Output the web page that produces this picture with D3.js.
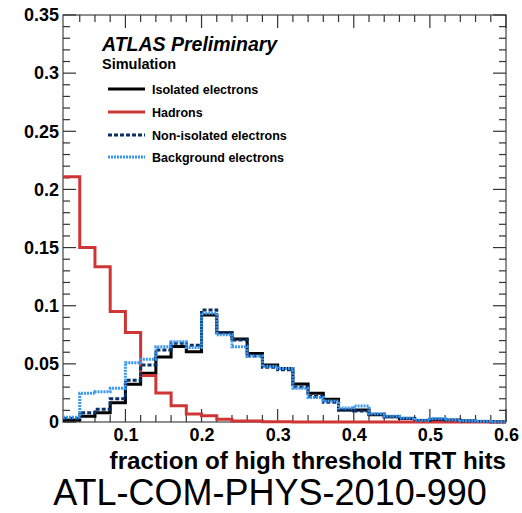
<!DOCTYPE html>
<html>
<head>
<meta charset="utf-8">
<style>
  body { margin: 0; background: #fff; }
  text { font-family: "Liberation Sans", Arial, sans-serif; }
  .axis text { font-size: 18px; font-weight: bold; fill: #000; }
</style>
</head>
<body>
<svg width="522" height="513"></svg>
<script src="https://d3js.org/d3.v7.min.js"></script>
<script>

// bin lower edges, 0.02 wide
var binEdges = d3.range(29).map(function(i) { return +(0.02 + i * 0.02).toFixed(2); });

var isolated = [0.0017, 0.005, 0.008, 0.0166, 0.0324, 0.042, 0.056, 0.065, 0.0605, 0.092,
  0.0768, 0.0714, 0.059, 0.049, 0.046, 0.0327, 0.0247, 0.0195, 0.0103, 0.0103,
  0.0062, 0.0046, 0.003, 0.0012, 0.0022, 0.0015, 0.0008, 0.0005, 0.0002];
var hadrons = [0.211, 0.150, 0.1335, 0.095, 0.077, 0.040, 0.025, 0.014, 0.0069, 0.0054,
  0.0023, 0.0009, 0.0009, 0.0003, 0.0002, 0, 0, 0, 0, 0,
  0, 0, 0, 0, 0, 0, 0, 0, 0];
var nonIsolated = [0.003, 0.008, 0.011, 0.020, 0.036, 0.049, 0.062, 0.0677, 0.066, 0.0963,
  0.077, 0.0705, 0.0568, 0.047, 0.045, 0.030, 0.022, 0.017, 0.0103, 0.0095,
  0.0066, 0.0046, 0.003, 0.0012, 0.0023, 0.0017, 0.0008, 0.0005, 0.0002];
var background = [0.004, 0.0247, 0.026, 0.029, 0.051, 0.054, 0.0648, 0.069, 0.064, 0.0935,
  0.075, 0.0648, 0.0568, 0.048, 0.046, 0.029, 0.021, 0.018, 0.012, 0.0137,
  0.007, 0.005, 0.0035, 0.0015, 0.003, 0.002, 0.001, 0.0006, 0.0002];

var xTicks = [0.1, 0.2, 0.3, 0.4, 0.5, 0.6];
var yTicks = [0, 0.05, 0.1, 0.15, 0.2, 0.25, 0.3, 0.35];

var series = [
  { name: "Isolated electrons", values: isolated, color: "#000000", dash: null },
  { name: "Hadrons", values: hadrons, color: "#d03535", dash: null },
  { name: "Non-isolated electrons", values: nonIsolated, color: "#0a2f66", dash: "4,2" },
  { name: "Background electrons", values: background, color: "#3a97f0", dash: "2,1" }
];

var svg = d3.select("svg");
var mLeft = 63, mRight = 506, mTop = 15, mBottom = 422;

var x = d3.scaleLinear().domain([0.018, 0.6]).range([mLeft, mRight]);
var y = d3.scaleLinear().domain([0, 0.35]).range([mBottom, mTop]);

// frame
svg.append("rect")
    .attr("x", mLeft).attr("y", mTop)
    .attr("width", mRight - mLeft).attr("height", mBottom - mTop)
    .attr("fill", "none").attr("stroke", "#444").attr("stroke-width", 1.2);

// ticks (inside, on all four sides)
var xMinor = d3.range(4, 60, 2).map(function(d) { return d / 100; });
var yMinor = d3.range(0, 36, 1).map(function(d) { return d / 100; });
function isMajorX(v) { return Math.abs(v * 10 - Math.round(v * 10)) < 1e-6; }
function isMajorY(v) { return Math.abs(v * 20 - Math.round(v * 20)) < 1e-6; }

var tk = svg.append("g").attr("stroke", "#333").attr("stroke-width", 1.2);
xMinor.concat([0.6]).forEach(function(v) {
  var len = isMajorX(v) ? 13 : 7;
  tk.append("line").attr("x1", x(v)).attr("x2", x(v)).attr("y1", mBottom).attr("y2", mBottom - len);
  tk.append("line").attr("x1", x(v)).attr("x2", x(v)).attr("y1", mTop).attr("y2", mTop + len);
});
yMinor.forEach(function(v) {
  var len = isMajorY(v) ? 13 : 7;
  tk.append("line").attr("x1", mLeft).attr("x2", mLeft + len).attr("y1", y(v)).attr("y2", y(v));
  tk.append("line").attr("x1", mRight).attr("x2", mRight - len).attr("y1", y(v)).attr("y2", y(v));
});

// tick labels via d3 axes (tick lines hidden)
var xAxis = svg.append("g").attr("class", "axis")
    .attr("transform", "translate(0," + mBottom + ")")
    .call(d3.axisBottom(x).tickValues(xTicks).tickSize(0).tickPadding(6).tickFormat(d3.format("~g")));
var yAxis = svg.append("g").attr("class", "axis")
    .attr("transform", "translate(" + mLeft + ",0)")
    .call(d3.axisLeft(y).tickValues(yTicks).tickSize(0).tickPadding(4).tickFormat(d3.format("~g")));
xAxis.select(".domain").remove();
yAxis.select(".domain").remove();

// histograms
var line = d3.line()
    .x(function(d) { return x(d[0]); })
    .y(function(d) { return y(d[1]); })
    .curve(d3.curveStepAfter);

series.forEach(function(s) {
  var pts = binEdges.map(function(e, i) { return [e, s.values[i]]; });
  pts.unshift([0.018, s.values[0]]);
  pts.push([0.6, s.values[s.values.length - 1]]);
  svg.append("path")
      .datum(pts)
      .attr("fill", "none")
      .attr("stroke", s.color)
      .attr("stroke-width", 3)
      .attr("stroke-dasharray", s.dash)
      .attr("d", line);
});

// labels
svg.append("text").attr("x", 102).attr("y", 51)
    .attr("font-size", 19.5).attr("font-weight", "bold").attr("font-style", "italic")
    .text("ATLAS Preliminary");
svg.append("text").attr("x", 102).attr("y", 69)
    .attr("font-size", 14.5).attr("font-weight", "bold")
    .text("Simulation");

var legY = [89, 112, 135, 157];
series.forEach(function(s, i) {
  svg.append("line")
      .attr("x1", 108).attr("x2", 145)
      .attr("y1", legY[i]).attr("y2", legY[i])
      .attr("stroke", s.color).attr("stroke-width", 3)
      .attr("stroke-dasharray", s.dash);
  svg.append("text").attr("x", 152).attr("y", legY[i] + 4.5)
      .attr("font-size", 12.5).attr("font-weight", "bold")
      .text(s.name);
});

svg.append("text").attr("x", mRight).attr("y", 469)
    .attr("text-anchor", "end")
    .attr("font-size", 24.2).attr("font-weight", "bold")
    .text("fraction of high threshold TRT hits");

svg.append("text").attr("x", 270).attr("y", 505)
    .attr("text-anchor", "middle")
    .attr("font-size", 36)
    .text("ATL-COM-PHYS-2010-990");

</script>
</body>
</html>
